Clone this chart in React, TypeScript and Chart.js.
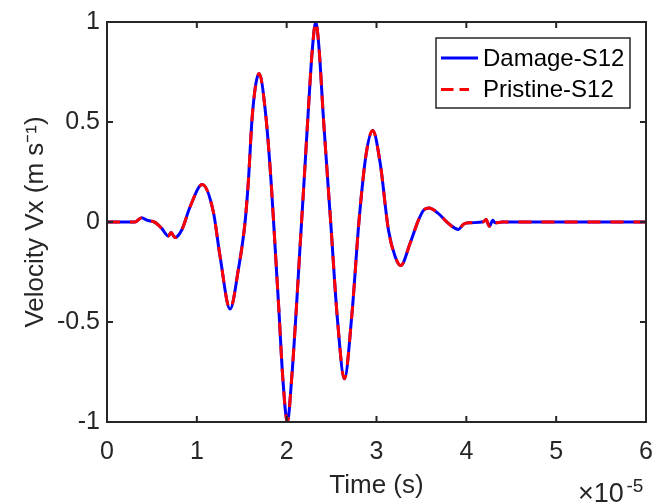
import React, { useEffect, useRef } from "react";
import { Chart, registerables } from "chart.js";

Chart.register(...registerables);

// Time in units of 1e-5 s (axis multiplier x10^-5)
const timeE5 = [
  0, 0.31, 0.386, 0.442, 0.535, 0.609, 0.683, 0.713, 0.757, 0.832, 0.924,
  1.06, 1.184, 1.258, 1.37, 1.462, 1.537, 1.574, 1.618, 1.693,
  1.767, 1.826, 1.871, 1.915, 1.957, 2.008, 2.056, 2.105, 2.149, 2.194, 2.238,
  2.286, 2.324, 2.361, 2.409, 2.491, 2.565, 2.643, 2.725, 2.806, 2.884, 2.958,
  3.04, 3.133, 3.207, 3.27, 3.374, 3.467, 3.523, 3.586, 3.69, 3.8, 3.912,
  3.968, 4.042, 4.19, 4.22, 4.257, 4.295, 4.32, 4.4, 6.0,
];

const damageVx = [
  0, 0, 0.021, 0.009, -0.002, -0.032, -0.07, -0.053, -0.078, -0.04, 0.075,
  0.187, 0.05, -0.17, -0.435, -0.238, 0.0, 0.206, 0.536, 0.742,
  0.536, 0.206, -0.123, -0.452, -0.781, -1.0, -0.781, -0.452, -0.123, 0.206,
  0.536, 0.865, 1.0, 0.865, 0.52, -0.007, -0.485, -0.784, -0.468, 0.009,
  0.338, 0.458, 0.297, -0.04, -0.172, -0.218, -0.106, 0.009, 0.058, 0.07,
  0.042, -0.007, -0.037, -0.011, -0.004, 0.001, 0.012, -0.021, 0.009, -0.004,
  0, 0,
];

const pristineVx = [
  0, 0, 0.021, 0.009, -0.002, -0.032, -0.07, -0.053, -0.078, -0.04, 0.075,
  0.187, 0.05, -0.17, -0.435, -0.238, 0.0, 0.206, 0.536, 0.742,
  0.536, 0.206, -0.123, -0.452, -0.781, -1.0, -0.781, -0.452, -0.123, 0.206,
  0.536, 0.865, 1.0, 0.865, 0.52, -0.007, -0.485, -0.784, -0.468, 0.009,
  0.338, 0.458, 0.297, -0.04, -0.172, -0.218, -0.106, 0.009, 0.058, 0.07,
  0.042, -0.007, -0.037, -0.011, -0.004, 0.001, 0.012, -0.021, 0.009, -0.004,
  0, 0,
];

const xTicks = [0, 1, 2, 3, 4, 5, 6];
const yTicks = [-1, -0.5, 0, 0.5, 1];
const seriesLabels = ["Damage-S12", "Pristine-S12"];
const xTitle = "Time (s)";
const yTitle = "Velocity Vx (m s\u207B\u00B9)";
const xExponentBase = "\u00D710";
const xExponent = "-5";

const AXIS = "#262626";
const FONT = "'Liberation Sans', Arial, Helvetica, sans-serif";
const BLUE = "#0000FF";
const RED = "#FF0000";
const DASH = [13, 10];
const LEGEND_DASH = [12.5, 6];

export default function App() {
  const ref = useRef<HTMLCanvasElement>(null);

  useEffect(() => {
    const canvas = ref.current;
    if (!canvas) return;

    const framePlugin = {
      id: "matlabFrame",
      afterDatasetsDraw(chart: any) {
        const { ctx, chartArea: a, scales } = chart;
        const xs = scales.x;
        const ys = scales.y;
        ctx.save();
        // box
        ctx.strokeStyle = AXIS;
        ctx.lineWidth = 2;
        ctx.setLineDash([]);
        ctx.strokeRect(a.left, a.top, a.right - a.left, a.bottom - a.top);
        // inward ticks on all four sides
        const tl = 6;
        ctx.beginPath();
        xTicks.forEach((v) => {
          const px = xs.getPixelForValue(v);
          ctx.moveTo(px, a.bottom);
          ctx.lineTo(px, a.bottom - tl);
          ctx.moveTo(px, a.top);
          ctx.lineTo(px, a.top + tl);
        });
        yTicks.forEach((v) => {
          const py = ys.getPixelForValue(v);
          ctx.moveTo(a.left, py);
          ctx.lineTo(a.left + tl, py);
          ctx.moveTo(a.right, py);
          ctx.lineTo(a.right - tl, py);
        });
        ctx.stroke();

        // legend box
        const bx = a.right - 210;
        const by = a.top + 16;
        const bw = 194;
        const bh = 70;
        ctx.fillStyle = "#FFFFFF";
        ctx.fillRect(bx, by, bw, bh);
        ctx.lineWidth = 1.5;
        ctx.strokeStyle = AXIS;
        ctx.strokeRect(bx, by, bw, bh);

        const ds = chart.data.datasets;
        const rows = [by + 20, by + 51.5];
        ctx.font = `24px ${FONT}`;
        ctx.textBaseline = "middle";
        ctx.textAlign = "left";
        ds.forEach((d: any, i: number) => {
          const ry = rows[i];
          const dashed = !!d.borderDash;
          ctx.beginPath();
          ctx.strokeStyle = d.borderColor;
          ctx.lineWidth = 3;
          ctx.setLineDash(dashed ? LEGEND_DASH : []);
          ctx.moveTo(bx + 5, ry);
          ctx.lineTo(bx + (dashed ? 33 : 42), ry);
          ctx.stroke();
          ctx.setLineDash([]);
          ctx.fillStyle = "#000000";
          ctx.fillText(d.label, bx + 47, ry + 1);
        });

        // x exponent
        ctx.fillStyle = AXIS;
        ctx.textBaseline = "alphabetic";
        ctx.font = `27px ${FONT}`;
        ctx.fillText(xExponentBase, a.right - 68, 501.5);
        ctx.font = `19px ${FONT}`;
        ctx.fillText(xExponent, a.right - 19.5, 491.5);
        ctx.restore();
      },
    };

    const chart = new Chart(canvas, {
      type: "line",
      data: {
        datasets: [
          {
            label: seriesLabels[0],
            data: timeE5.map((t, i) => ({ x: t, y: damageVx[i] })),
            borderColor: BLUE,
            borderWidth: 3,
            pointRadius: 0,
            fill: false,
            cubicInterpolationMode: "monotone",
            order: 2,
          },
          {
            label: seriesLabels[1],
            data: timeE5.map((t, i) => ({ x: t, y: pristineVx[i] })),
            borderColor: RED,
            borderWidth: 3,
            borderDash: DASH,
            pointRadius: 0,
            fill: false,
            cubicInterpolationMode: "monotone",
            order: 1,
          },
        ],
      },
      options: {
        responsive: false,
        animation: false,
        layout: { padding: { left: 0, right: 22, top: 16, bottom: 0 } },
        plugins: {
          legend: { display: false },
          tooltip: { enabled: false },
        },
        scales: {
          x: {
            type: "linear",
            min: 0,
            max: 6,
            afterFit: (s: any) => {
              s.height = 82;
            },
            afterBuildTicks: (s: any) => {
              s.ticks = xTicks.map((v) => ({ value: v }));
            },
            grid: { display: false, drawTicks: false },
            border: { display: false },
            ticks: {
              font: { family: FONT, size: 25 },
              color: AXIS,
              padding: 15,
              maxRotation: 0,
              autoSkip: false,
              callback: (v: any) => String(v),
            },
            title: {
              display: true,
              text: xTitle,
              font: { family: FONT, size: 26 },
              color: AXIS,
              padding: { top: 0, bottom: 3 },
            },
          },
          y: {
            type: "linear",
            min: -1,
            max: 1,
            afterFit: (s: any) => {
              s.width = 107;
            },
            afterBuildTicks: (s: any) => {
              s.ticks = yTicks.map((v) => ({ value: v }));
            },
            grid: { display: false, drawTicks: false },
            border: { display: false },
            ticks: {
              font: { family: FONT, size: 25 },
              color: AXIS,
              padding: 7,
              autoSkip: false,
              callback: (v: any) => String(v),
            },
            title: {
              display: true,
              text: yTitle,
              font: { family: FONT, size: 26 },
              color: AXIS,
              padding: { top: 20, bottom: 0 },
            },
          },
        },
      },
      plugins: [framePlugin],
    });

    return () => {
      chart.destroy();
    };
  }, []);

  return (
    <canvas
      ref={ref}
      width={668}
      height={504}
      style={{ position: "fixed", left: 0, top: 0, display: "block", background: "#FFFFFF" }}
    />
  );
}
